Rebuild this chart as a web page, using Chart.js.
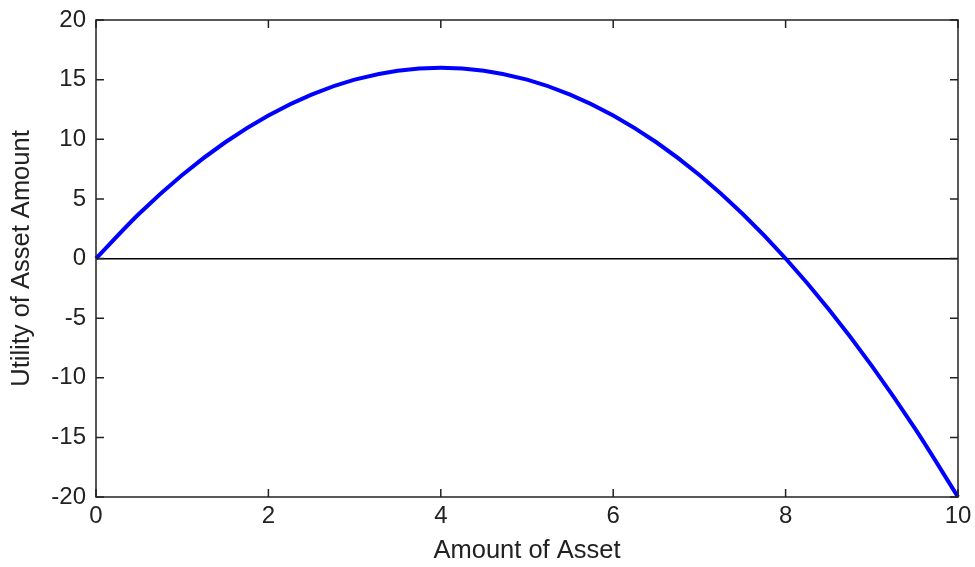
<!DOCTYPE html>
<html>
<head>
<meta charset="utf-8">
<script src="https://cdn.jsdelivr.net/npm/chart.js@4"></script>
<style>
  html, body { margin: 0; padding: 0; background: #fff; }
  #wrap { width: 975px; height: 567px; }
</style>
</head>
<body>
<div id="wrap"><canvas id="utilityChart" width="975" height="567"></canvas></div>
<script>
// values
const assetAmounts = [0, 0.5, 1, 1.5, 2, 2.5, 3, 3.5, 4, 4.5, 5, 5.5, 6, 6.5, 7, 7.5, 8, 8.5, 9, 9.5, 10];
const utilityValues = [0, 3.75, 7, 9.75, 12, 13.75, 15, 15.75, 16, 15.75, 15, 13.75, 12, 9.75, 7, 3.75, 0, -4.25, -9, -14.25, -20];
const xTicks = [0, 2, 4, 6, 8, 10];
const yTicks = [-20, -15, -10, -5, 0, 5, 10, 15, 20];

const xTitle = 'Amount of Asset';
const yTitle = 'Utility of Asset Amount';

const fontFamily = '"Liberation Sans", Arial, sans-serif';
const textColor = '#222';

// box frame with inward tick marks on all four sides
const frameTicks = {
    id: 'frameTicks',
    afterDraw(chart) {
        const { ctx, chartArea: a, scales } = chart;
        const len = 8;
        ctx.save();
        ctx.strokeStyle = '#222';
        ctx.lineWidth = 1.5;
        ctx.strokeRect(a.left, a.top, a.right - a.left, a.bottom - a.top);
        ctx.beginPath();
        for (const v of xTicks) {
            const px = scales.x.getPixelForValue(v);
            ctx.moveTo(px, a.bottom); ctx.lineTo(px, a.bottom - len);
            ctx.moveTo(px, a.top); ctx.lineTo(px, a.top + len);
        }
        for (const v of yTicks) {
            const py = scales.y.getPixelForValue(v);
            ctx.moveTo(a.left, py); ctx.lineTo(a.left + len, py);
            ctx.moveTo(a.right, py); ctx.lineTo(a.right - len, py);
        }
        ctx.stroke();
        ctx.restore();
    }
};

const ctx = document.getElementById('utilityChart').getContext('2d');
new Chart(ctx, {
    type: 'line',
    data: {
        datasets: [{
            data: assetAmounts.map((x, i) => ({ x: x, y: utilityValues[i] })),
            borderColor: '#0000ff',
            borderWidth: 4,
            pointRadius: 0,
            fill: false,
            cubicInterpolationMode: 'monotone',
            clip: false
        }]
    },
    options: {
        responsive: false,
        animation: false,
        layout: { padding: { top: 20, right: 17, bottom: 0, left: 0 } },
        plugins: {
            legend: { display: false },
            tooltip: { enabled: false }
        },
        scales: {
            x: {
                type: 'linear',
                min: 0,
                max: 10,
                afterBuildTicks(scale) { scale.ticks = xTicks.map(v => ({ value: v })); },
                afterFit(scale) { scale.height = 70; scale.paddingRight = 0; scale.paddingLeft = 0; },
                grid: { display: false, drawTicks: false },
                border: { display: false },
                ticks: {
                    padding: 5,
                    maxRotation: 0,
                    color: textColor,
                    font: { family: fontFamily, size: 24 }
                },
                title: {
                    display: true,
                    text: xTitle,
                    color: textColor,
                    padding: { top: 0, bottom: 1 },
                    font: { family: fontFamily, size: 25.5 }
                }
            },
            y: {
                type: 'linear',
                min: -20,
                max: 20,
                afterBuildTicks(scale) { scale.ticks = yTicks.map(v => ({ value: v })); },
                afterFit(scale) { scale.width = 96; scale.paddingTop = 0; scale.paddingBottom = 0; },
                grid: {
                    drawTicks: false,
                    color: c => (c.tick && c.tick.value === 0 ? '#000' : 'rgba(0,0,0,0)'),
                    lineWidth: 1.5
                },
                border: { display: false },
                ticks: {
                    padding: 10,
                    color: textColor,
                    font: { family: fontFamily, size: 24 }
                },
                title: {
                    display: true,
                    text: yTitle,
                    color: textColor,
                    padding: { top: 7, bottom: 0 },
                    font: { family: fontFamily, size: 25.5 }
                }
            }
        }
    },
    plugins: [frameTicks]
});
</script>
</body>
</html>
